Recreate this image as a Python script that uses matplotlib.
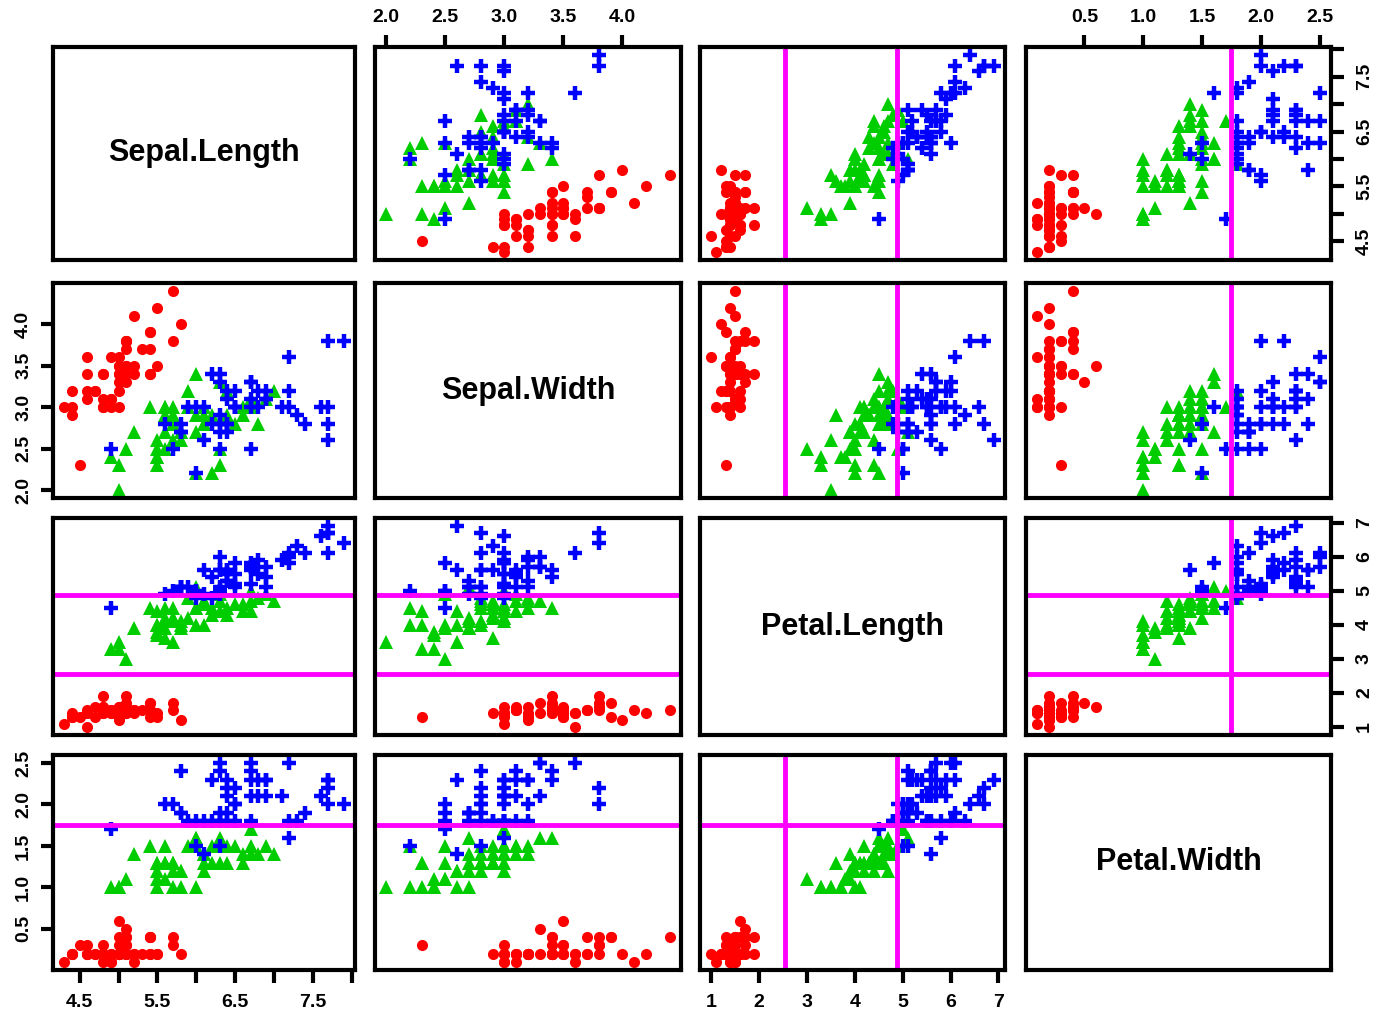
import numpy as np
import matplotlib
matplotlib.use("Agg")
import matplotlib.pyplot as plt

plt.rcParams['font.family'] = ['Liberation Sans', 'DejaVu Sans']
plt.rcParams['font.weight'] = 'bold'

names = ["Sepal.Length", "Sepal.Width", "Petal.Length", "Petal.Width"]

setosa = [
    [5.1,3.5,1.4,0.2],[4.9,3.0,1.4,0.2],[4.7,3.2,1.3,0.2],[4.6,3.1,1.5,0.2],[5.0,3.6,1.4,0.2],
    [5.4,3.9,1.7,0.4],[4.6,3.4,1.4,0.3],[5.0,3.4,1.5,0.2],[4.4,2.9,1.4,0.2],[4.9,3.1,1.5,0.1],
    [5.4,3.7,1.5,0.2],[4.8,3.4,1.6,0.2],[4.8,3.0,1.4,0.1],[4.3,3.0,1.1,0.1],[5.8,4.0,1.2,0.2],
    [5.7,4.4,1.5,0.4],[5.4,3.9,1.3,0.4],[5.1,3.5,1.4,0.3],[5.7,3.8,1.7,0.3],[5.1,3.8,1.5,0.3],
    [5.4,3.4,1.7,0.2],[5.1,3.7,1.5,0.4],[4.6,3.6,1.0,0.2],[5.1,3.3,1.7,0.5],[4.8,3.4,1.9,0.2],
    [5.0,3.0,1.6,0.2],[5.0,3.4,1.6,0.4],[5.2,3.5,1.5,0.2],[5.2,3.4,1.4,0.2],[4.7,3.2,1.6,0.2],
    [4.8,3.1,1.6,0.2],[5.4,3.4,1.5,0.4],[5.2,4.1,1.5,0.1],[5.5,4.2,1.4,0.2],[4.9,3.1,1.5,0.2],
    [5.0,3.2,1.2,0.2],[5.5,3.5,1.3,0.2],[4.9,3.6,1.4,0.1],[4.4,3.0,1.3,0.2],[5.1,3.4,1.5,0.2],
    [5.0,3.5,1.3,0.3],[4.5,2.3,1.3,0.3],[4.4,3.2,1.3,0.2],[5.0,3.5,1.6,0.6],[5.1,3.8,1.9,0.4],
    [4.8,3.0,1.4,0.3],[5.1,3.8,1.6,0.2],[4.6,3.2,1.4,0.2],[5.3,3.7,1.5,0.2],[5.0,3.3,1.4,0.2],
]
versicolor = [
    [7.0,3.2,4.7,1.4],[6.4,3.2,4.5,1.5],[6.9,3.1,4.9,1.5],[5.5,2.3,4.0,1.3],[6.5,2.8,4.6,1.5],
    [5.7,2.8,4.5,1.3],[6.3,3.3,4.7,1.6],[4.9,2.4,3.3,1.0],[6.6,2.9,4.6,1.3],[5.2,2.7,3.9,1.4],
    [5.0,2.0,3.5,1.0],[5.9,3.0,4.2,1.5],[6.0,2.2,4.0,1.0],[6.1,2.9,4.7,1.4],[5.6,2.9,3.6,1.3],
    [6.7,3.1,4.4,1.4],[5.6,3.0,4.5,1.5],[5.8,2.7,4.1,1.0],[6.2,2.2,4.5,1.5],[5.6,2.5,3.9,1.1],
    [5.9,3.2,4.8,1.8],[6.1,2.8,4.0,1.3],[6.3,2.5,4.9,1.5],[6.1,2.8,4.7,1.2],[6.4,2.9,4.3,1.3],
    [6.6,3.0,4.4,1.4],[6.8,2.8,4.8,1.4],[6.7,3.0,5.0,1.7],[6.0,2.9,4.5,1.5],[5.7,2.6,3.5,1.0],
    [5.5,2.4,3.8,1.1],[5.5,2.4,3.7,1.0],[5.8,2.7,3.9,1.2],[6.0,2.7,5.1,1.6],[5.4,3.0,4.5,1.5],
    [6.0,3.4,4.5,1.6],[6.7,3.1,4.7,1.5],[6.3,2.3,4.4,1.3],[5.6,3.0,4.1,1.3],[5.5,2.5,4.0,1.3],
    [5.5,2.6,4.4,1.2],[6.1,3.0,4.6,1.4],[5.8,2.6,4.0,1.2],[5.0,2.3,3.3,1.0],[5.6,2.7,4.2,1.3],
    [5.7,3.0,4.2,1.2],[5.7,2.9,4.2,1.3],[6.2,2.9,4.3,1.3],[5.1,2.5,3.0,1.1],[5.7,2.8,4.1,1.3],
]
virginica = [
    [6.3,3.3,6.0,2.5],[5.8,2.7,5.1,1.9],[7.1,3.0,5.9,2.1],[6.3,2.9,5.6,1.8],[6.5,3.0,5.8,2.2],
    [7.6,3.0,6.6,2.1],[4.9,2.5,4.5,1.7],[7.3,2.9,6.3,1.8],[6.7,2.5,5.8,1.8],[7.2,3.6,6.1,2.5],
    [6.5,3.2,5.1,2.0],[6.4,2.7,5.3,1.9],[6.8,3.0,5.5,2.1],[5.7,2.5,5.0,2.0],[5.8,2.8,5.1,2.4],
    [6.4,3.2,5.3,2.3],[6.5,3.0,5.5,1.8],[7.7,3.8,6.7,2.2],[7.7,2.6,6.9,2.3],[6.0,2.2,5.0,1.5],
    [6.9,3.2,5.7,2.3],[5.6,2.8,4.9,2.0],[7.7,2.8,6.7,2.0],[6.3,2.7,4.9,1.8],[6.7,3.3,5.7,2.1],
    [7.2,3.2,6.0,1.8],[6.2,2.8,4.8,1.8],[6.1,3.0,4.9,1.8],[6.4,2.8,5.6,2.1],[7.2,3.0,5.8,1.6],
    [7.4,2.8,6.1,1.9],[7.9,3.8,6.4,2.0],[6.4,2.8,5.6,2.2],[6.3,2.8,5.1,1.5],[6.1,2.6,5.6,1.4],
    [7.7,3.0,6.1,2.3],[6.3,3.4,5.6,2.4],[6.4,3.1,5.5,1.8],[6.0,3.0,4.8,1.8],[6.9,3.1,5.4,2.1],
    [6.7,3.1,5.6,2.4],[6.9,3.1,5.1,2.3],[5.8,2.7,5.1,1.9],[6.8,3.2,5.9,2.3],[6.7,3.3,5.7,2.5],
    [6.7,3.0,5.2,2.3],[6.3,2.5,5.0,1.9],[6.5,3.0,5.2,2.0],[6.2,3.4,5.4,2.3],[5.9,3.0,5.1,1.8],
]

# split lines per variable
splits = {2: [2.55, 4.87], 3: [1.75]}

ticks = [
    [4.5, 5.0, 5.5, 6.0, 6.5, 7.0, 7.5, 8.0],
    [2.0, 2.5, 3.0, 3.5, 4.0],
    [1, 2, 3, 4, 5, 6, 7],
    [0.5, 1.0, 1.5, 2.0, 2.5],
]
ticklabels = [
    ["4.5", "", "5.5", "", "6.5", "", "7.5", ""],
    ["2.0", "2.5", "3.0", "3.5", "4.0"],
    ["1", "2", "3", "4", "5", "6", "7"],
    ["0.5", "1.0", "1.5", "2.0", "2.5"],
]

groups = [
    (np.array(setosa), dict(marker='o', color='#FF0000', ms=8, mew=0)),
    (np.array(versicolor), dict(marker='^', color='#00CD00', ms=10, mew=0)),
    (np.array(virginica), dict(marker='+', color='#0000FF', ms=10.5, mew=3.2)),
]
alldata = np.vstack([g[0] for g in groups])
lims = []
for k in range(4):
    lo, hi = alldata[:, k].min(), alldata[:, k].max()
    d = (hi - lo) * 0.04
    lims.append((lo - d, hi + d))

W, H = 1373, 1014
fig = plt.figure(figsize=(W / 100, H / 100), dpi=100)

cols = [(53, 355), (375, 681), (700, 1005), (1026, 1331)]
rows = [(47, 260), (283, 498), (518, 735), (755, 970)]

for i in range(4):
    for j in range(4):
        x0, x1 = cols[j]
        y0, y1 = rows[i]
        ax = fig.add_axes([x0 / W, 1 - y1 / H, (x1 - x0) / W, (y1 - y0) / H])
        for s in ax.spines.values():
            s.set_linewidth(3)
        ax.set_xlim(lims[j])
        ax.set_ylim(lims[i])
        ax.set_xticks([])
        ax.set_yticks([])
        if i == j:
            ax.text(0.5, 0.5, names[i], transform=ax.transAxes, ha='center',
                    va='center', fontsize=22, fontweight='bold')
        else:
            for data, st in groups:
                ax.plot(data[:, j], data[:, i], ls='none', **st)
            for v in splits.get(j, []):
                ax.axvline(v, color='#FF00FF', lw=3.5)
            for v in splits.get(i, []):
                ax.axhline(v, color='#FF00FF', lw=3.5)
        # outer axes, alternating like R pairs
        if i == 0 and j % 2 == 1:
            ax.xaxis.set_ticks_position('top')
            ax.set_xticks(ticks[j], ticklabels[j])
        if i == 3 and j % 2 == 0:
            ax.set_xticks(ticks[j], ticklabels[j])
        if j == 0 and i % 2 == 1:
            ax.set_yticks(ticks[i], ticklabels[i], rotation=90, va='center')
        if j == 3 and i % 2 == 0:
            ax.yaxis.set_ticks_position('right')
            ax.set_yticks(ticks[i], ticklabels[i], rotation=90, va='center')
        ax.tick_params(axis='both', length=9, width=3, labelsize=14, pad=6)
        if i == 3:
            ax.tick_params(axis='x', pad=8)
        if j == 3:
            ax.tick_params(axis='y', pad=9)

fig.savefig("out.png", dpi=100)
